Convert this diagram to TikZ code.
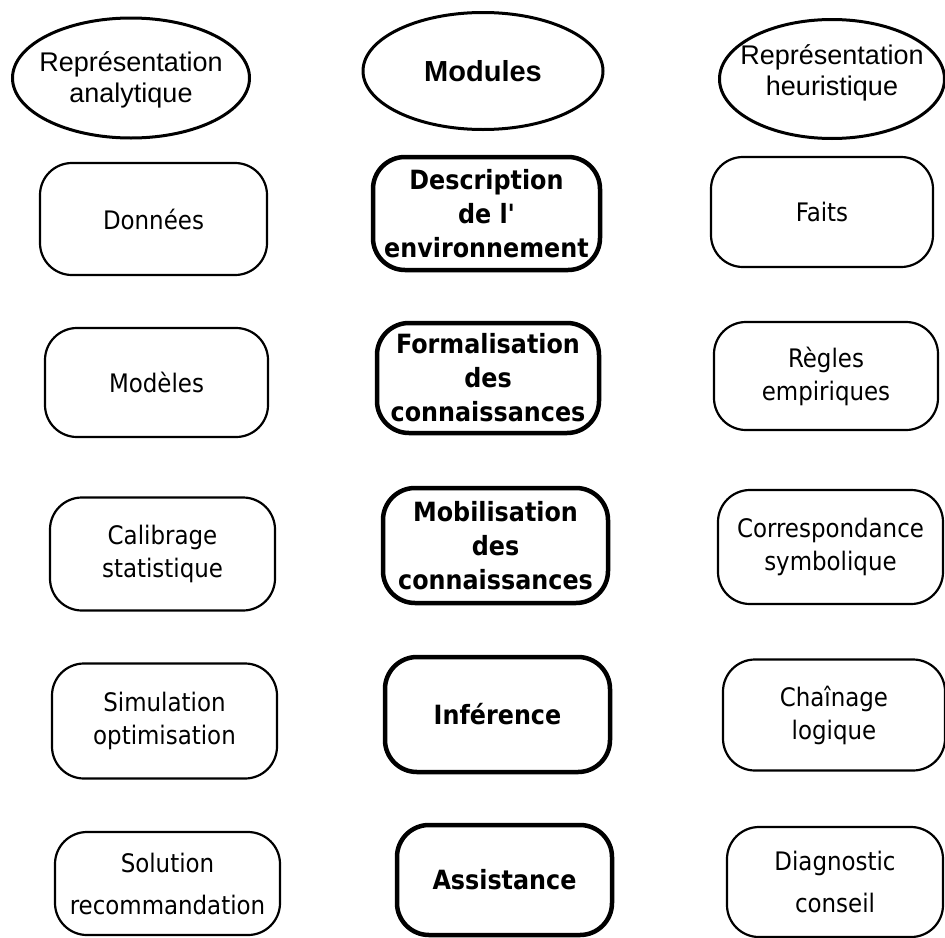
\documentclass[tikz,border=0pt]{standalone}
\usepackage{fontspec}
\setmainfont{Liberation Sans}
\newfontfamily\boxfont{DejaVu Sans Condensed}
\tikzset{
  elltext/.style={inner sep=0pt, align=center, font=\fontsize{27}{31}\selectfont},
  ellline/.style={draw=black, line width=3pt},
  lbox/.style={rectangle, rounded corners=32pt, draw=black, line width=2.2pt, align=center,
    inner sep=0pt, font=\boxfont\fontsize{25.5}{33}\selectfont},
  lboxb/.style={lbox, font=\boxfont\fontsize{25.5}{42}\selectfont},
  mbox/.style={lbox, line width=4.5pt, font=\boxfont\bfseries\fontsize{26.5}{34}\selectfont},
}
\begin{document}
\begin{tikzpicture}[x=1pt,y=-1pt]
\useasboundingbox (0,0) rectangle (945,937);
% ellipses
\node[elltext] (ea) at (131,80) {Représentation\\analytique};
\draw[ellline] ([yshift=2pt]ea.center) ellipse [x radius=118.5pt, y radius=60pt];
\node[elltext, font=\bfseries\fontsize{29}{29}\selectfont] (em) at (483,71) {Modules};
\draw[ellline] (em.center) ellipse [x radius=120pt, y radius=58.5pt];
\node[elltext] (eh) at (832,73) {Représentation\\heuristique};
\draw[ellline] ([yshift=-6pt]eh.center) ellipse [x radius=112.5pt, y radius=59.5pt];
% left column
\node[lbox, minimum width=227pt, minimum height=112pt] (l1) at (153.5,219) {Données};
\node[lbox, minimum width=223pt, minimum height=109pt] (l2) at (156.5,382.5) {Modèles};
\node[lbox, minimum width=225pt, minimum height=113pt] (l3) at (162.5,554) {Calibrage\\statistique};
\node[lbox, minimum width=225pt, minimum height=115pt] (l4) at (164.5,721) {Simulation\\optimisation};
\node[lboxb, minimum width=225pt, minimum height=103pt] (l5) at (167.5,883.5) {Solution\\recommandation};
% middle column
\node[mbox, minimum width=227pt, minimum height=113pt] (m1) at (486.5,213.5) {Description\\de l'\\environnement};
\node[mbox, minimum width=222pt, minimum height=110pt] (m2) at (488,378) {Formalisation\\des\\connaissances};
\node[mbox, minimum width=225pt, minimum height=115pt] (m3) at (495.5,545.5) {Mobilisation\\des\\connaissances};
\node[mbox, minimum width=225pt, minimum height=115pt] (m4) at (497.5,714.5) {Inférence};
\node[mbox, minimum width=215pt, minimum height=110pt] (m5) at (504.5,880) {Assistance};
% right column
\node[lbox, minimum width=222pt, minimum height=110pt] (r1) at (822,212) {Faits};
\node[lbox, minimum width=224pt, minimum height=108pt] (r2) at (826,376) {Règles\\empiriques};
\node[lbox, minimum width=225pt, minimum height=114pt] (r3) at (830.5,547) {Correspondance\\symbolique};
\node[lbox, minimum width=222pt, minimum height=111pt] (r4) at (834,715) {Chaînage\\logique};
\node[lboxb, minimum width=216pt, minimum height=110pt] (r5) at (835,882) {Diagnostic\\conseil};
\end{tikzpicture}
\end{document}
